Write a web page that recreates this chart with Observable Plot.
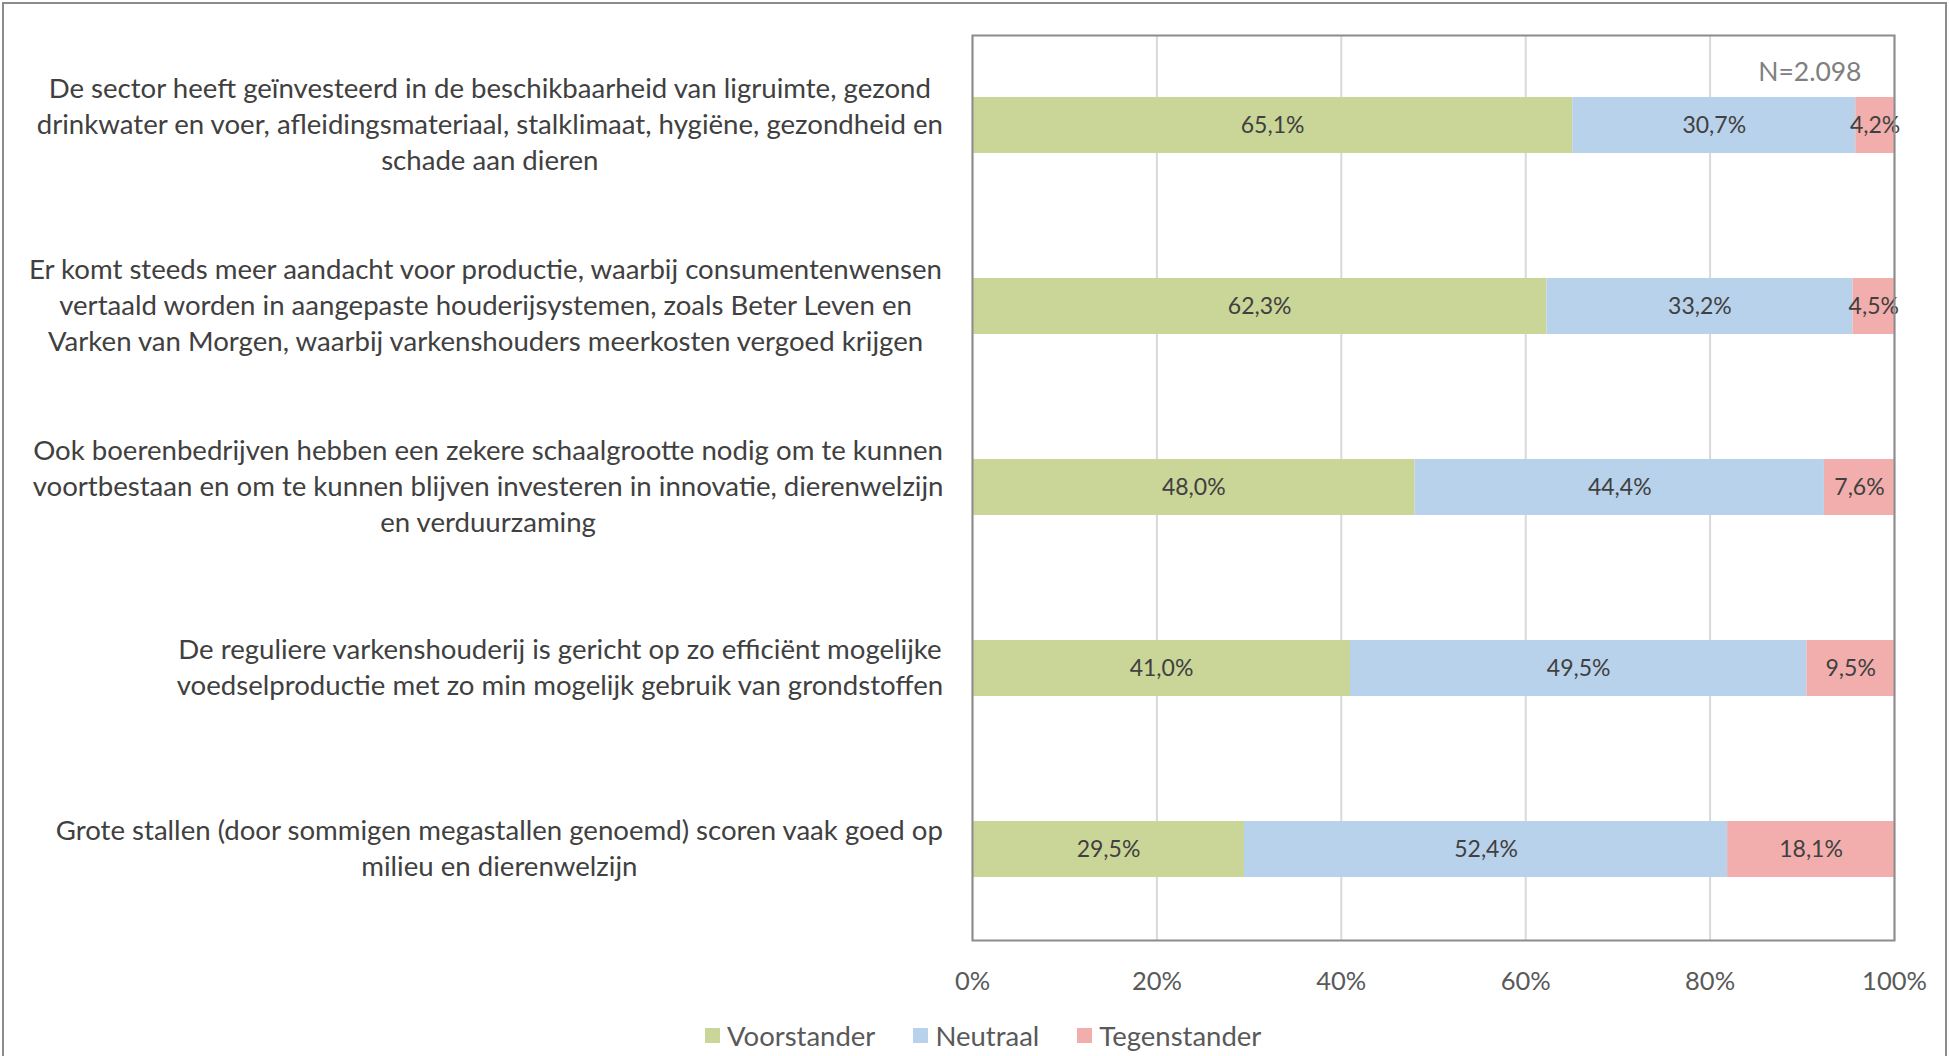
<!DOCTYPE html>
<html>
<head>
<meta charset="utf-8">
<script src="https://cdn.jsdelivr.net/npm/d3@7"></script>
<script src="https://cdn.jsdelivr.net/npm/@observablehq/plot@0.6"></script>
<style>
  html, body { margin: 0; padding: 0; background: #fff; }
  #wrap { position: relative; width: 1949px; height: 1056px; overflow: hidden; font-family: Lato, "Open Sans", sans-serif; }
  #border { position: absolute; left: 2px; top: 2px; width: 1941px; height: 1200px; border: 2px solid #8c8c8c; pointer-events: none; }
  #chart { position: absolute; left: 0; top: 0; }
  #legend { position: absolute; left: 705px; top: 1020px; height: 30px; display: flex; align-items: center; font-size: 27.5px; color: #595959; }
  .item { display: flex; align-items: center; margin-right: 38px; }
  .sw { width: 15px; height: 15px; margin-right: 7px; }
</style>
</head>
<body>
<div id="wrap">
  <div id="border"></div>
  <div id="chart"></div>
  <div id="legend"></div>
</div>
<script>
// ---- data ----
const categoryLines = [
  ["De sector heeft geïnvesteerd in de beschikbaarheid van ligruimte, gezond",
   "drinkwater en voer, afleidingsmateriaal, stalklimaat, hygiëne, gezondheid en",
   "schade aan dieren"],
  ["Er komt steeds meer aandacht voor productie, waarbij consumentenwensen",
   "vertaald worden in aangepaste houderijsystemen, zoals Beter Leven en",
   "Varken van Morgen, waarbij varkenshouders meerkosten vergoed krijgen"],
  ["Ook boerenbedrijven hebben een zekere schaalgrootte nodig om te kunnen",
   "voortbestaan en om te kunnen blijven investeren in innovatie, dierenwelzijn",
   "en verduurzaming"],
  ["De reguliere varkenshouderij is gericht op zo efficiënt mogelijke",
   "voedselproductie met zo min mogelijk gebruik van grondstoffen"],
  ["Grote stallen (door sommigen megastallen genoemd) scoren vaak goed op",
   "milieu en dierenwelzijn"]
];
const categories = categoryLines.map(l => l.join(" "));
const series = ["Voorstander", "Neutraal", "Tegenstander"];
const voorstander = [65.1, 62.3, 48.0, 41.0, 29.5];
const neutraal    = [30.7, 33.2, 44.4, 49.5, 52.4];
const tegenstander = [4.2, 4.5, 7.6, 9.5, 18.1];
const colors = ["#cad598", "#b9d2eb", "#f2aeac"];
const xTicks = [0, 20, 40, 60, 80, 100];
const note = "N=2.098";

// ---- build table ----
const seriesValues = [voorstander, neutraal, tegenstander];
const data = [];
categories.forEach((c, i) => {
  series.forEach((s, j) => data.push({category: c, series: s, value: seriesValues[j][i]}));
});
const fmt = v => v.toFixed(1).replace(".", ",") + "%";

// measure label widths
const LABEL_SIZE = 27.6;
const ctx = document.createElement("canvas").getContext("2d");
ctx.font = `${LABEL_SIZE}px Lato`;
const labelMarks = categoryLines.map((lines, i) => {
  const w = Math.max(...lines.map(l => ctx.measureText(l).width));
  return Plot.text([categories[i]], {
    y: d => d,
    text: () => lines.join("\n"),
    frameAnchor: "left",
    textAnchor: "middle",
    dx: -(29 + w / 2),
    dy: -3,
    lineHeight: 36 / LABEL_SIZE,
    fontSize: LABEL_SIZE,
    fill: "#404040"
  });
});

const chart = Plot.plot({
  width: 1949,
  height: 1010,
  marginLeft: 972,
  marginRight: 55,
  marginTop: 35,
  marginBottom: 70,
  style: {fontFamily: "Lato, 'Open Sans', sans-serif", background: "transparent"},
  x: {domain: [0, 100], label: null},
  y: {domain: categories, paddingInner: 0.69, paddingOuter: 0.345, axis: null},
  color: {domain: series, range: colors},
  marks: [
    Plot.gridX(xTicks, {stroke: "#d9d9d9", strokeOpacity: 1, strokeWidth: 2}),
    Plot.barX(data, Plot.stackX({x: "value", y: "category", fill: "series", z: "series", order: series})),
    Plot.text(data, Plot.stackX({x: "value", y: "category", z: "series", order: series,
      text: d => fmt(d.value), fontSize: 23, fill: "#404040"})),
    Plot.frame({stroke: "#8c8c8c", strokeWidth: 2}),
    Plot.axisX(xTicks, {tickSize: 0, tickPadding: 31, tickFormat: d => d + "%", fontSize: 25.5, fill: "#595959", label: null}),
    Plot.text([note], {frameAnchor: "top-right", textAnchor: "end", dx: -33, dy: 27, fontSize: 26.5, fill: "#808080"}),
    ...labelMarks
  ]
});
document.getElementById("chart").appendChild(chart);

// legend
const legend = document.getElementById("legend");
series.forEach((s, j) => {
  const it = document.createElement("div");
  it.className = "item";
  it.innerHTML = `<div class="sw" style="background:${colors[j]}"></div><span>${s}</span>`;
  legend.appendChild(it);
});
</script>
</body>
</html>
